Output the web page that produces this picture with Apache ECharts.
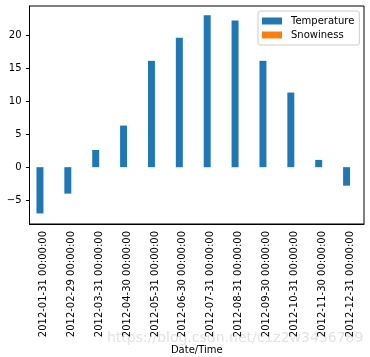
<!DOCTYPE html>
<html>
<head>
<meta charset="utf-8">
<script src="https://cdn.jsdelivr.net/npm/echarts@6/dist/echarts.min.js"></script>
<style>html,body{margin:0;padding:0;background:#fff;}#c{width:370px;height:357px;}</style>
</head>
<body>
<div id="c"></div>
<script>
const categories = ['2012-01-31 00:00:00','2012-02-29 00:00:00','2012-03-31 00:00:00','2012-04-30 00:00:00','2012-05-31 00:00:00','2012-06-30 00:00:00','2012-07-31 00:00:00','2012-08-31 00:00:00','2012-09-30 00:00:00','2012-10-31 00:00:00','2012-11-30 00:00:00','2012-12-31 00:00:00'];
const temperature = [-7.0, -4.0, 2.6, 6.3, 16.1, 19.6, 23.0, 22.2, 16.1, 11.3, 1.1, -2.8];
const snowiness = [0, 0, 0, 0, 0, 0, 0, 0, 0, 0, 0, 0];
const yTicks = [-5, 0, 5, 10, 15, 20];

const font = 'DejaVu Sans';
const chart = echarts.init(document.getElementById('c'));
chart.setOption({
  animation: false,
  textStyle: { fontFamily: font },
  grid: { left: 29.5, right: 6, top: 6, bottom: 133, show: true, borderColor: '#000', borderWidth: 1,
    containLabel: false, outerBoundsMode: 'none' },
  legend: {
    left: 258, top: 11, orient: 'vertical',
    itemWidth: 20, itemHeight: 7, itemGap: 4,
    padding: [5, 5, 5, 4],
    borderColor: '#cccccc', borderWidth: 1, borderRadius: 2,
    icon: 'rect',
    textStyle: { fontFamily: font, fontSize: 10, color: '#000', padding: [0, 0, 0, 4] },
    data: ['Temperature', 'Snowiness']
  },
  xAxis: {
    type: 'category', data: categories, boundaryGap: true,
    name: 'Date/Time', nameLocation: 'middle', nameGap: 113,
    nameTextStyle: { fontFamily: font, fontSize: 10, color: '#000' },
    axisLine: { onZero: false, lineStyle: { color: '#000', width: 1 } },
    axisTick: { alignWithLabel: true, length: 3.5, lineStyle: { color: '#000' } },
    axisLabel: { rotate: 90, margin: 7, fontFamily: font, fontSize: 10, color: '#000', interval: 0 },
    splitLine: { show: false }
  },
  yAxis: {
    type: 'value', min: -8.6, max: 24.4,
    axisLine: { show: true, lineStyle: { color: '#000', width: 1 } },
    axisTick: { show: true, length: 3.5, lineStyle: { color: '#000' }, customValues: yTicks },
    axisLabel: { margin: 8, fontFamily: font, fontSize: 10, color: '#000', customValues: yTicks,
      formatter: v => String(v).replace('-', '\u2212') },
    splitLine: { show: false }
  },
  series: [
    { name: 'Temperature', type: 'bar', data: temperature, barWidth: '25%', barGap: '0%', itemStyle: { color: '#1f77b4' } },
    { name: 'Snowiness', type: 'bar', data: snowiness, barWidth: '25%', barGap: '0%', itemStyle: { color: '#ff7f0e' } }
  ],
  graphic: [{
    type: 'text', left: 107, top: 331, silent: true,
    style: { text: 'https://blog.csdn.net/c1z2w3456789', fontFamily: font, fontSize: 14, fill: 'rgba(215,215,215,0.7)' }
  }]
});
</script>
</body>
</html>
